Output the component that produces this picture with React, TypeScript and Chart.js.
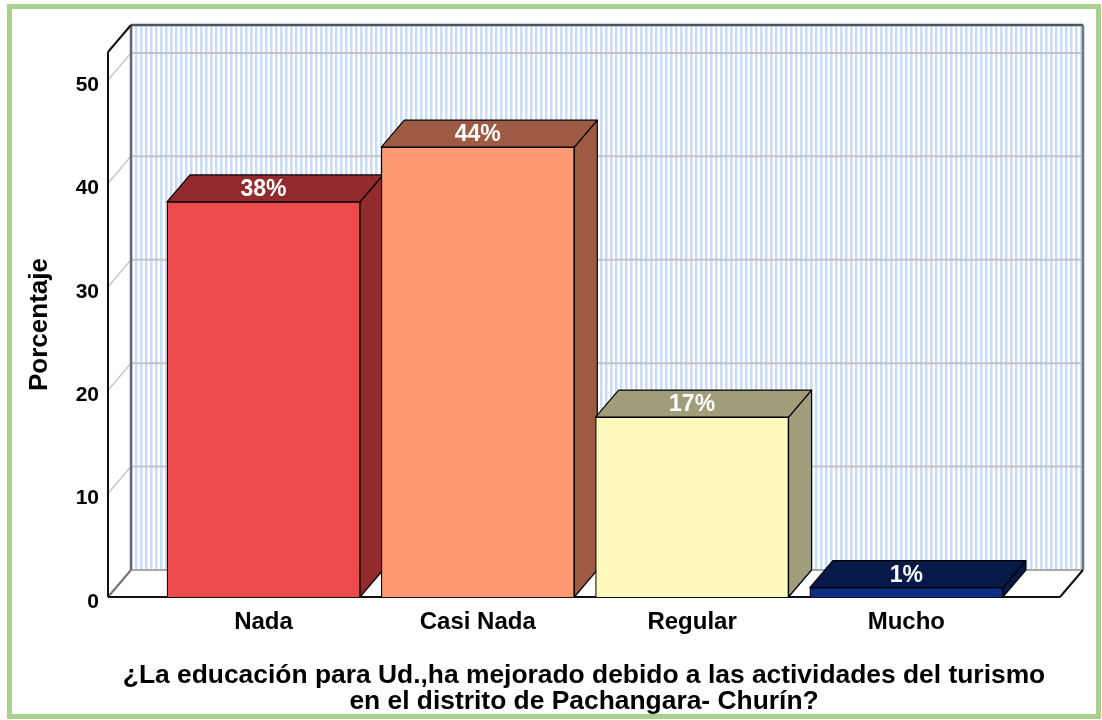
import React, { useEffect, useRef } from "react";
import { Chart, registerables } from "chart.js";

Chart.register(...registerables);

// ---- data ----
const categories = ["Nada", "Casi Nada", "Regular", "Mucho"];
const percentages = [38.2, 43.5, 17.4, 0.9];
const yTicks = [0, 10, 20, 30, 40, 50];
const yTitle = "Porcentaje";
const xTitle = [
  "¿La educación para Ud.,ha mejorado debido a las actividades del turismo",
  "en el distrito de Pachangara- Churín?",
];

// ---- styles ----
const frontColors = ["#EC4A4C", "#FD9A71", "#FFF9BE", "#0E2E86"];
const sideColors = ["#922B2D", "#9E5B43", "#A09D7A", "#061A4A"];
const FONT = "'Liberation Sans', Arial, sans-serif";
const DX = 23;
const DY = -27;

function poly(ctx: CanvasRenderingContext2D, pts: number[][]) {
  ctx.beginPath();
  ctx.moveTo(pts[0][0], pts[0][1]);
  for (let i = 1; i < pts.length; i++) ctx.lineTo(pts[i][0], pts[i][1]);
  ctx.closePath();
}

function line(ctx: CanvasRenderingContext2D, x1: number, y1: number, x2: number, y2: number, color: string, w: number) {
  ctx.beginPath();
  ctx.moveTo(x1, y1);
  ctx.lineTo(x2, y2);
  ctx.strokeStyle = color;
  ctx.lineWidth = w;
  ctx.stroke();
}

const threeD = {
  id: "threeD",
  beforeDraw(chart: any) {
    const ctx = chart.ctx as CanvasRenderingContext2D;
    ctx.save();
    ctx.fillStyle = "#ffffff";
    ctx.fillRect(0, 0, chart.width, chart.height);
    ctx.strokeStyle = "#A9D18E";
    ctx.lineWidth = 5;
    ctx.strokeRect(9.5, 6.5, 1089, 710);
    ctx.restore();
  },
  beforeDatasetsDraw(chart: any) {
    const ctx = chart.ctx as CanvasRenderingContext2D;
    const ca = chart.chartArea;
    const ys = chart.scales.y;
    const L = ca.left, R = ca.right, T = ca.top, B = ca.bottom;
    ctx.save();
    // stripe pattern
    const pc = document.createElement("canvas");
    pc.width = 5;
    pc.height = 4;
    const pctx = pc.getContext("2d")!;
    pctx.fillStyle = "#ffffff";
    pctx.fillRect(0, 0, 5, 4);
    pctx.fillStyle = "#C9DCF8";
    pctx.fillRect(0, 0, 2, 4);
    pctx.fillStyle = "#E2ECFB";
    pctx.fillRect(2, 0, 1, 4);
    const pat = ctx.createPattern(pc, "repeat")!;
    // back wall
    ctx.fillStyle = pat;
    ctx.fillRect(L + DX, T + DY, R - L, B - T);
    // left wall
    ctx.fillStyle = "#ffffff";
    poly(ctx, [[L, T], [L + DX, T + DY], [L + DX, B + DY], [L, B]]);
    ctx.fill();
    // floor
    poly(ctx, [[L, B], [L + DX, B + DY], [R + DX, B + DY], [R, B]]);
    ctx.fill();
    // grid lines
    yTicks.forEach((v) => {
      if (v === 0) return;
      const y = ys.getPixelForValue(v);
      line(ctx, L + DX, y + DY, R + DX, y + DY, "#C4C4C4", 2);
      line(ctx, L, y, L + DX, y + DY, "#C8C8C8", 1.5);
    });
    // wall / floor edges
    line(ctx, L + DX, B + DY, R + DX, B + DY, "#A8A8A8", 2);
    line(ctx, L, B, L + DX, B + DY, "#707070", 2);
    line(ctx, L + DX, T + DY, L + DX, B + DY, "#5F6B78", 2.5);
    line(ctx, L + DX, T + DY, R + DX, T + DY, "#4A5560", 2.5);
    line(ctx, R + DX, T + DY, R + DX, B + DY, "#6A7683", 2.5);
    line(ctx, L, T, L + DX, T + DY, "#111111", 2);
    line(ctx, L, T, L, B, "#111111", 2);
    line(ctx, L, B, R, B, "#111111", 2);
    line(ctx, R, B, R + DX, B + DY, "#111111", 2);
    // bar top and side faces
    const meta = chart.getDatasetMeta(0);
    meta.data.forEach((el: any, i: number) => {
      const p = el.getProps(["x", "y", "base", "width"], true);
      const l = p.x - p.width / 2;
      const r = p.x + p.width / 2;
      const t = p.y;
      const b = p.base;
      ctx.fillStyle = sideColors[i];
      ctx.strokeStyle = "#000000";
      ctx.lineWidth = 1.2;
      ctx.lineJoin = "round";
      poly(ctx, [[r, t], [r + DX, t + DY], [r + DX, b + DY], [r, b]]);
      ctx.fill();
      ctx.stroke();
      poly(ctx, [[l, t], [l + DX, t + DY], [r + DX, t + DY], [r, t]]);
      ctx.fill();
      ctx.stroke();
    });
    ctx.restore();
  },
  afterDatasetsDraw(chart: any) {
    const ctx = chart.ctx as CanvasRenderingContext2D;
    const meta = chart.getDatasetMeta(0);
    ctx.save();
    ctx.fillStyle = "#ffffff";
    ctx.font = `bold 23px ${FONT}`;
    ctx.textAlign = "center";
    ctx.textBaseline = "middle";
    meta.data.forEach((el: any, i: number) => {
      const p = el.getProps(["x", "y"], true);
      ctx.fillText(`${Math.round(percentages[i])}%`, p.x, p.y + DY / 2 + 1);
    });
    ctx.restore();
  },
};

export default function App() {
  const ref = useRef<HTMLCanvasElement | null>(null);
  useEffect(() => {
    if (!ref.current) return;
    const chart = new Chart(ref.current, {
      type: "bar",
      data: {
        datasets: [
          {
            data: percentages.map((v, i) => ({ x: i, y: v })) as any,
            backgroundColor: frontColors,
            borderColor: "#000000",
            borderWidth: 1.2,
            barThickness: 193,
          },
        ],
      },
      options: {
        animation: false,
        responsive: false,
        maintainAspectRatio: false,
        devicePixelRatio: 1,
        layout: { padding: { top: 52, right: 42, bottom: 0, left: 0 } },
        plugins: {
          legend: { display: false },
          tooltip: { enabled: false },
        },
        scales: {
          x: {
            type: "linear",
            offset: false,
            min: -0.7256,
            max: 3.717,
            afterBuildTicks: (s: any) => {
              s.ticks = categories.map((_, i) => ({ value: i }));
            },
            afterFit: (s: any) => {
              s.height = 123;
            },
            grid: { display: false, drawTicks: false, offset: false },
            border: { display: false },
            ticks: {
              callback: (v: any) => categories[v] ?? "",
              font: { family: FONT, size: 24, weight: "bold" },
              color: "#000000",
              padding: 11,
              maxRotation: 0,
              autoSkip: false,
            },
            title: {
              display: true,
              text: xTitle,
              color: "#000000",
              font: { family: FONT, size: 26.4, weight: "bold", lineHeight: 0.96 },
              padding: { top: 0, bottom: 6 },
            },
          },
          y: {
            min: 0,
            max: 52.7,
            afterBuildTicks: (s: any) => {
              s.ticks = yTicks.map((v) => ({ value: v }));
            },
            afterFit: (s: any) => {
              s.width = 108;
            },
            grid: { display: false, drawTicks: false },
            border: { display: false },
            ticks: {
              font: { family: FONT, size: 21, weight: "bold" },
              color: "#000000",
              padding: 9,
              labelOffset: 5,
            },
            title: {
              display: true,
              text: yTitle,
              color: "#000000",
              font: { family: FONT, size: 26, weight: "bold" },
              padding: { top: 24, bottom: 0 },
            },
          },
        },
      } as any,
      plugins: [threeD],
    });
    return () => chart.destroy();
  }, []);
  return (
    <div style={{ position: "absolute", left: 0, top: 0, width: 1102, height: 720 }}>
      <canvas ref={ref} width={1102} height={720} style={{ display: "block" }} />
    </div>
  );
}
